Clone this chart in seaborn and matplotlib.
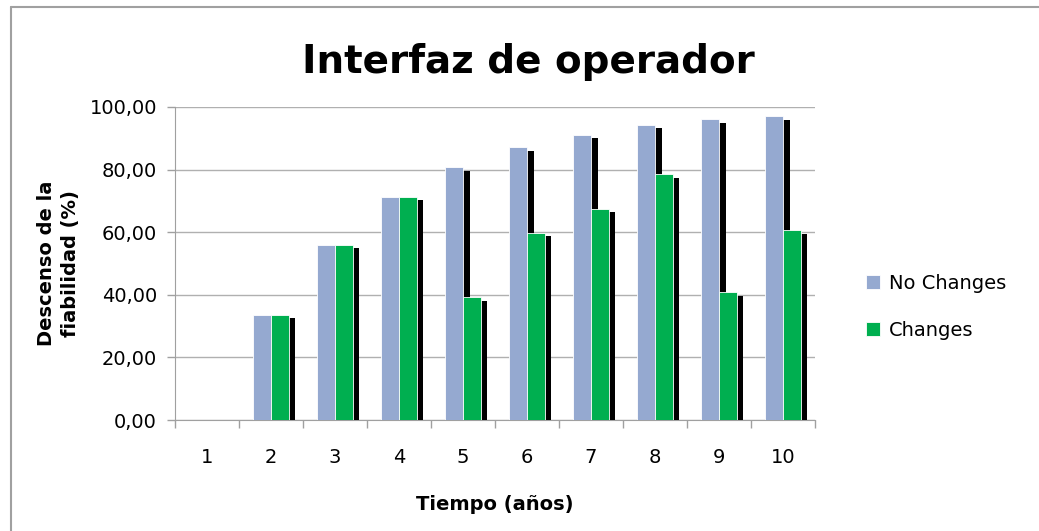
import seaborn as sns
import matplotlib.pyplot as plt
import matplotlib.patheffects as pe
from matplotlib.lines import Line2D
from matplotlib.ticker import FixedLocator
import pandas as pd

## data
years = ['1', '2', '3', '4', '5', '6', '7', '8', '9', '10']
no_changes = [0.0, 33.7, 56.0, 71.4, 80.9, 87.3, 91.2, 94.4, 96.2, 97.0]
changes = [0.0, 33.7, 56.0, 71.4, 39.3, 59.9, 67.5, 78.5, 40.8, 60.6]
series = ['No Changes', 'Changes']
colors = ['#95A9D0', '#00AF50']
y_ticks = [0, 20, 40, 60, 80, 100]

df = pd.DataFrame({
    'year': years * 2,
    'value': no_changes + changes,
    'serie': [series[0]] * len(years) + [series[1]] * len(years),
})

sns.set_style('white')
plt.rcParams['font.family'] = ['DejaVu Sans']
plt.rcParams['text.color'] = 'black'
plt.rcParams['axes.labelcolor'] = 'black'

fig = plt.figure(figsize=(10.39, 5.31), dpi=100)
ax = fig.add_axes([175 / 1039, 1 - 420 / 531, 640 / 1039, 313 / 531])

sns.barplot(data=df, x='year', y='value', hue='serie', palette=colors,
            width=0.55, gap=0, edgecolor='white', linewidth=0.6,
            saturation=1, ax=ax, zorder=3)

## black drop shadow on every bar
for p in ax.patches:
    p.set_path_effects([pe.SimplePatchShadow(offset=(4.7, -2.7), shadow_rgbFace='black', alpha=1),
                        pe.Normal()])

ax.set_ylim(0, 100)
ax.set_xlim(-0.5, len(years) - 0.5)
ax.set_yticks(y_ticks)
ax.set_yticklabels([f'{v:.2f}'.replace('.', ',') for v in y_ticks])
ax.xaxis.set_minor_locator(FixedLocator([i - 0.5 for i in range(len(years) + 1)]))
ax.tick_params(axis='x', which='major', length=0, labelsize=14, pad=20, labelcolor='black')
ax.tick_params(axis='x', which='minor', bottom=True, length=6, width=1, color='#A0A0A0',
               direction='out')
ax.tick_params(axis='y', left=True, length=6, width=1, color='#A0A0A0', labelsize=14, pad=7,
               labelcolor='black', direction='out')
ax.yaxis.grid(True, color='#B0B0B0', linewidth=1)
ax.set_axisbelow(True)
sns.despine(ax=ax, top=True, right=True)
for s in ['left', 'bottom']:
    ax.spines[s].set_color('#A0A0A0')

ax.set_xlabel('Tiempo (años)', fontsize=14, fontweight='bold')
ax.xaxis.set_label_coords(0.5, -(505 - 420) / 313, transform=ax.transAxes)
ax.xaxis.label.set_va('center')
ax.set_ylabel('Descenso de la\nfiabilidad (%)', fontsize=14, fontweight='bold',
              linespacing=1.35)
ax.yaxis.set_label_coords(-(175 - 80) / 640, 0.5, transform=ax.transAxes)

fig.text(528 / 1039, 1 - 62 / 531, 'Interfaz de operador', ha='center', va='center',
         fontsize=28, fontweight='bold')

sns.move_legend(ax, 'center left', bbox_to_anchor=(866 / 1039, 1 - 307 / 531),
                bbox_transform=fig.transFigure, frameon=False, title=None,
                fontsize=14, handlelength=0.7, handleheight=0.7, handletextpad=0.5,
                labelspacing=1.45, borderpad=0, borderaxespad=0)

## chart area border (only top and left visible)
fig.add_artist(Line2D([11 / 1039, 11 / 1039], [0, 1 - 7 / 531], transform=fig.transFigure,
                      color='#A0A0A0', lw=1.5))
fig.add_artist(Line2D([11 / 1039, 1], [1 - 7 / 531, 1 - 7 / 531], transform=fig.transFigure,
                      color='#A0A0A0', lw=1.5))

fig.savefig('out.png', dpi=100)
